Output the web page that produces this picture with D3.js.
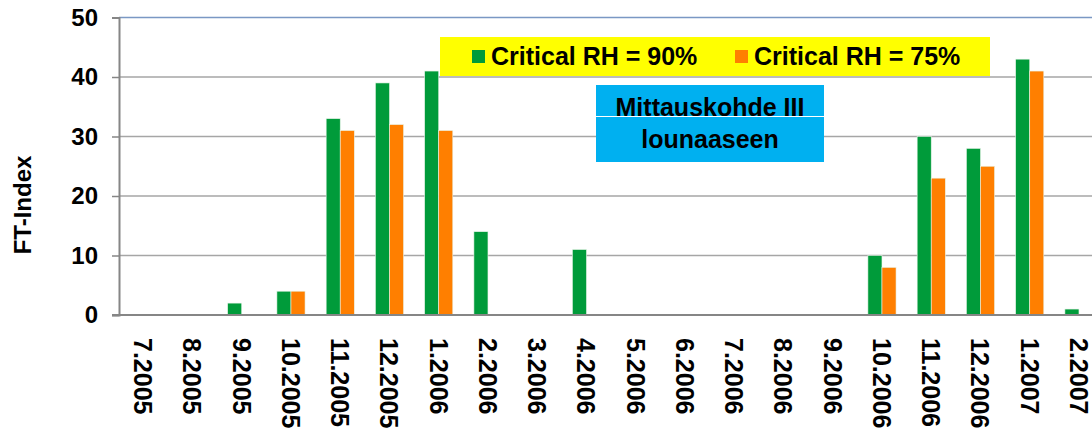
<!DOCTYPE html>
<html>
<head>
<meta charset="utf-8">
<script src="https://cdn.jsdelivr.net/npm/d3@7"></script>
<style>
  body { margin: 0; background: #fff; }
  svg { display: block; font-family: "Liberation Sans", Arial, sans-serif; font-weight: bold; }
</style>
</head>
<body>
<div id="vis"></div>
<script>
var months = ["7.2005","8.2005","9.2005","10.2005","11.2005","12.2005","1.2006","2.2006","3.2006","4.2006",
              "5.2006","6.2006","7.2006","8.2006","9.2006","10.2006","11.2006","12.2006","1.2007","2.2007"];
var rh90 = [0,0,2,4,33,39,41,14,0,11,0,0,0,0,0,10,30,28,43,1];
var rh75 = [0,0,0,4,31,32,31,0,0,0,0,0,0,0,0,8,23,25,41,0];
var seriesNames = ["Critical RH = 90%", "Critical RH = 75%"];
var seriesColors = ["#009b3a", "#ff7f00"];
var yTicks = [0,10,20,30,40,50];

var width = 1092, height = 429;

var svg = d3.select("#vis").append("svg")
    .attr("width", width)
    .attr("height", height);

var x = d3.scaleBand().domain(months).range([118.6, 1103.6]);
var x1 = d3.scaleBand().domain([0, 1])
    .range([x.bandwidth() * 0.2143, x.bandwidth() * 0.7857]);
var y = d3.scaleLinear().domain([0, 50]).range([315, 17.5]);

// gridlines
svg.append("g")
  .selectAll("line")
  .data(yTicks.filter(function(d) { return d > 0; }))
  .enter().append("line")
    .attr("x1", 119).attr("x2", width)
    .attr("y1", function(d) { return y(d); })
    .attr("y2", function(d) { return y(d); })
    .attr("stroke", function(d) { return d == 50 ? "#7a98c4" : "#a6a6a6"; })
    .attr("stroke-width", 1.5);

// bars
var rows = months.map(function(m, i) { return {m: m, v: [rh90[i], rh75[i]]}; });
var group = svg.append("g").selectAll("g")
  .data(rows)
  .enter().append("g")
    .attr("transform", function(d) { return "translate(" + x(d.m) + ",0)"; });

group.selectAll("rect")
  .data(function(d) { return d.v.map(function(v, k) { return {k: k, v: v}; }); })
  .enter().filter(function(d) { return d.v > 0; }).append("rect")
    .attr("x", function(d) { return x1(d.k); })
    .attr("width", x1.bandwidth())
    .attr("y", function(d) { return y(d.v); })
    .attr("height", function(d) { return y(0) - y(d.v); })
    .attr("fill", function(d) { return seriesColors[d.k]; })
    .attr("stroke", "#e8f4e8")
    .attr("stroke-width", 0.6);

// y axis
var yAxis = svg.append("g")
    .attr("transform", "translate(119,0)")
    .call(d3.axisLeft(y).tickValues(yTicks).tickSize(7).tickPadding(14));
yAxis.select(".domain").attr("stroke", "#868686").attr("stroke-width", 2);
yAxis.selectAll(".tick line").attr("stroke", "#868686").attr("stroke-width", 1.5);
yAxis.selectAll(".tick text")
    .attr("font-size", 24).attr("font-weight", "bold")
    .attr("font-family", "Liberation Sans, Arial, sans-serif")
    .attr("fill", "#000");

// x axis line
svg.append("line")
    .attr("x1", 112).attr("x2", width)
    .attr("y1", y(0)).attr("y2", y(0))
    .attr("stroke", "#868686").attr("stroke-width", 2);

// x labels
svg.append("g").selectAll("text")
  .data(months)
  .enter().append("text")
    .attr("transform", function(d) {
      return "translate(" + (x(d) + x.bandwidth() / 2) + ",338) rotate(90)";
    })
    .attr("dominant-baseline", "central")
    .attr("font-size", 25)
    .attr("fill", "#000")
    .text(function(d) { return d; });

// y title
svg.append("text")
    .attr("transform", "translate(22,205) rotate(-90)")
    .attr("text-anchor", "middle")
    .attr("dominant-baseline", "central")
    .attr("font-size", 24)
    .text("FT-Index");

// legend
var legend = svg.append("g");
legend.append("rect")
    .attr("x", 440).attr("y", 37).attr("width", 550).attr("height", 39)
    .attr("fill", "#ffff00");
var legX = [472, 735];
seriesNames.forEach(function(name, k) {
  legend.append("rect")
      .attr("x", legX[k]).attr("y", 50).attr("width", 13).attr("height", 13)
      .attr("fill", seriesColors[k]);
  legend.append("text")
      .attr("x", legX[k] + 19).attr("y", 65)
      .attr("font-size", 25)
      .text(name);
});

// info box
var info = svg.append("g");
info.append("rect")
    .attr("x", 596).attr("y", 85).attr("width", 228).attr("height", 77)
    .attr("fill", "#00b0f0");
info.append("line")
    .attr("x1", 596).attr("x2", 824).attr("y1", 116.5).attr("y2", 116.5)
    .attr("stroke", "#fff").attr("stroke-width", 1);
info.append("text")
    .attr("x", 710).attr("y", 116)
    .attr("text-anchor", "middle")
    .attr("font-size", 25)
    .text("Mittauskohde III");
info.append("text")
    .attr("x", 710).attr("y", 148)
    .attr("text-anchor", "middle")
    .attr("font-size", 25)
    .text("lounaaseen");
</script>
</body>
</html>
